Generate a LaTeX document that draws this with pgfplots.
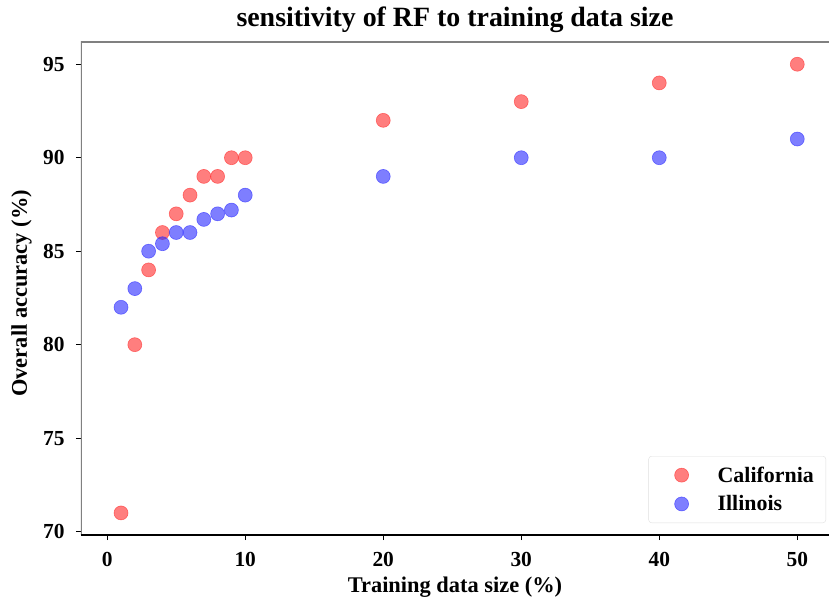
\documentclass[border=0pt]{standalone}
\usepackage{pgfplots}
\pgfplotsset{compat=1.18}
\usepackage{fontspec}
\setmainfont{Liberation Serif}
\definecolor{cal}{RGB}{255,40,40}
\definecolor{ill}{RGB}{40,40,255}
\begin{document}
\begin{tikzpicture}
\begin{axis}[
  scale only axis, width=748bp, height=493bp, at={(0,0)}, anchor=south west,
  xmin=-1.9, xmax=52.3, ymin=69.82, ymax=96.19,
  xtick={0,10,20,30,40,50}, ytick={70,75,80,85,90,95},
  tick align=outside, tick pos=left, major tick length=5bp,
  every tick/.style={black, line width=1bp},
  axis line style={draw=none},
  /pgf/number format/assume math mode=true,
  ticklabel style={font=\fontsize{21.5}{24}\selectfont\bfseries},
  yticklabel style={xshift=-8bp},
  xticklabel style={yshift=-9bp},
  title={sensitivity of RF to training data size},
  title style={font=\fontsize{28}{32}\selectfont\bfseries, at={(axis description cs:0.5,1)}, anchor=south, inner sep=0pt, yshift=3bp},
  xlabel={Training data size (\%)},
  x label style={font=\fontsize{22.5}{26}\selectfont\bfseries, at={(axis description cs:0.5,0)}, anchor=north, inner sep=0pt, yshift=-42bp},
  ylabel={Overall accuracy (\%)},
  y label style={font=\fontsize{22.5}{26}\selectfont\bfseries, at={(axis description cs:-0.0655,0.49)}, anchor=south, inner sep=0pt},
  legend style={at={(axis description cs:1,0)}, anchor=south east, xshift=-3bp, yshift=12bp,
    draw=gray!25, rounded corners=3bp, font=\fontsize{22}{25}\selectfont\bfseries,
    inner xsep=10bp, inner ysep=8.5bp, row sep=8bp},
  legend cell align=left,
  legend image code/.code={\path[draw=none,fill=none] (0bp,0bp) -- (57bp,0bp); \draw[#1] plot coordinates {(23bp,0bp)};},
]
\draw[gray, line width=2.5bp] (rel axis cs:0,0) -- (rel axis cs:0,1) -- (rel axis cs:1,1);
\draw[black, line width=1.2bp] (rel axis cs:0,0) -- (rel axis cs:1,0);
\addplot[only marks, mark=*, mark size=7bp, mark options={draw=cal, fill=cal, opacity=0.6, line width=0.6bp}]
coordinates {(1,71) (2,80) (3,84) (4,86) (5,87) (6,88) (7,89) (8,89) (9,90) (10,90) (20,92) (30,93) (40,94) (50,95)};
\addlegendentry{California}
\addplot[only marks, mark=*, mark size=7bp, mark options={draw=ill, fill=ill, opacity=0.6, line width=0.6bp}]
coordinates {(1,82) (2,83) (3,85) (4,85.4) (5,86) (6,86) (7,86.7) (8,87) (9,87.2) (10,88) (20,89) (30,90) (40,90) (50,91)};
\addlegendentry{Illinois}
\end{axis}
\pgfresetboundingbox
\path (-81bp,-67bp) rectangle (748bp,535bp);
\end{tikzpicture}
\end{document}
